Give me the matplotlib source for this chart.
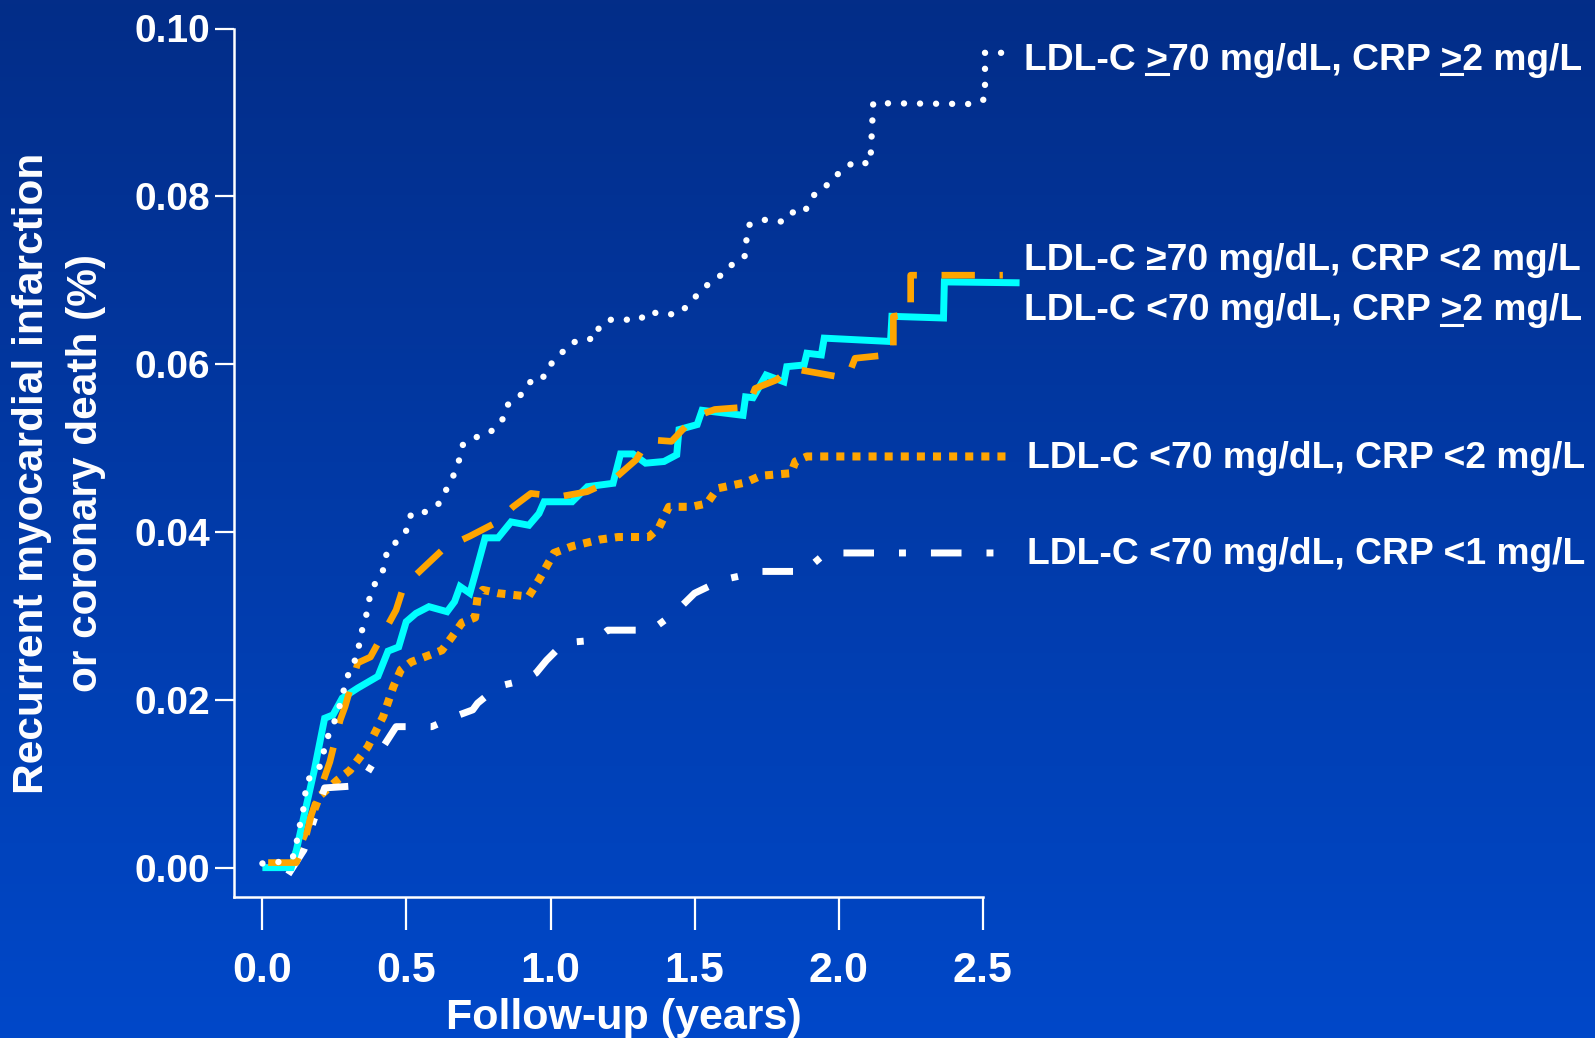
import numpy as np
import matplotlib
matplotlib.use("Agg")
import matplotlib.pyplot as plt
from matplotlib import font_manager
from matplotlib.lines import Line2D
from matplotlib.colors import LinearSegmentedColormap

# ---------------- data ----------------
# LDL-C >=70 mg/dL, CRP >=2 mg/L
hh_t = [0.000, 0.065, 0.106, 0.118, 0.129, 0.141, 0.148, 0.155, 0.195, 0.210, 0.223,
        0.245, 0.276, 0.288, 0.307, 0.335, 0.335, 0.353, 0.366, 0.375, 0.398, 0.425,
        0.432, 0.471, 0.505, 0.516, 0.568, 0.613, 0.639, 0.664, 0.683, 0.696, 0.743,
        0.794, 0.832, 0.849, 0.889, 0.921, 0.942, 0.979, 1.004, 1.033, 1.066, 1.110,
        1.156, 1.170, 1.210, 1.265, 1.310, 1.340, 1.390, 1.446, 1.485, 1.520, 1.560,
        1.610, 1.640, 1.675, 1.680, 1.690, 1.745, 1.800, 1.830, 1.880, 1.900, 1.920,
        1.956, 1.980, 2.020, 2.050, 2.110, 2.120, 2.470, 2.508, 2.508, 2.570]
hh_r = [0.0005, 0.0007, 0.0013, 0.0029, 0.0049, 0.0067, 0.0086, 0.0104, 0.0116, 0.0134, 0.0153,
        0.0169, 0.0201, 0.0221, 0.0238, 0.0256, 0.0272, 0.0290, 0.0309, 0.0328, 0.0343, 0.0358,
        0.0378, 0.0390, 0.0404, 0.0422, 0.0424, 0.0434, 0.0451, 0.0468, 0.0486, 0.0504, 0.0513,
        0.0520, 0.0533, 0.0551, 0.0560, 0.0574, 0.0585, 0.0585, 0.0601, 0.0611, 0.0624, 0.0630,
        0.0630, 0.0646, 0.0653, 0.0653, 0.0653, 0.0663, 0.0659, 0.0660, 0.0673, 0.0687, 0.0699,
        0.0710, 0.0723, 0.0729, 0.0748, 0.0766, 0.0772, 0.0770, 0.0781, 0.0780, 0.0794, 0.0804,
        0.0812, 0.0823, 0.0831, 0.0841, 0.0839, 0.0911, 0.0910, 0.0916, 0.0971, 0.0971]

# LDL-C <70 mg/dL, CRP >=2 mg/L (solid)
lh_t = [0.012, 0.100, 0.118, 0.144, 0.180, 0.216, 0.245, 0.277, 0.331, 0.401, 0.436,
        0.473, 0.499, 0.533, 0.578, 0.641, 0.667, 0.686, 0.720, 0.738, 0.773, 0.818,
        0.863, 0.925, 0.960, 0.978, 1.075, 1.128, 1.217, 1.243, 1.286, 1.330, 1.394,
        1.438, 1.446, 1.509, 1.526, 1.668, 1.677, 1.703, 1.748, 1.810, 1.820, 1.880,
        1.890, 1.940, 1.950, 2.180, 2.185, 2.364, 2.367, 2.616]
lh_r = [0.0000, 0.0000, 0.0021, 0.0061, 0.0116, 0.0178, 0.0182, 0.0202, 0.0214, 0.0228, 0.0258,
        0.0263, 0.0293, 0.0303, 0.0311, 0.0305, 0.0317, 0.0335, 0.0327, 0.0349, 0.0393, 0.0393,
        0.0412, 0.0408, 0.0422, 0.0436, 0.0436, 0.0454, 0.0458, 0.0493, 0.0493, 0.0482, 0.0484,
        0.0492, 0.0522, 0.0528, 0.0545, 0.0539, 0.0561, 0.0560, 0.0587, 0.0579, 0.0597, 0.0599,
        0.0613, 0.0611, 0.0631, 0.0627, 0.0657, 0.0655, 0.0698, 0.0697]

# LDL-C >=70 mg/dL, CRP <2 mg/L (dashed)
hl_t = [0.020, 0.118, 0.144, 0.170, 0.234, 0.270, 0.287, 0.331, 0.375, 0.464, 0.490,
        0.570, 0.632, 0.720, 0.810, 0.870, 0.932, 1.030, 1.127, 1.217, 1.297, 1.340,
        1.420, 1.500, 1.570, 1.685, 1.710, 1.783, 1.835, 1.934, 2.030, 2.057, 2.170,
        2.190, 2.190, 2.250, 2.250, 2.570]
hl_r = [0.0006, 0.0006, 0.0027, 0.0063, 0.0126, 0.0176, 0.0192, 0.0244, 0.0251, 0.0307, 0.0335,
        0.0361, 0.0381, 0.0395, 0.0411, 0.0430, 0.0446, 0.0442, 0.0448, 0.0462, 0.0486, 0.0510,
        0.0508, 0.0537, 0.0546, 0.0549, 0.0571, 0.0581, 0.0595, 0.0589, 0.0583, 0.0607, 0.0611,
        0.0611, 0.0657, 0.0660, 0.0706, 0.0706]

# LDL-C <70 mg/dL, CRP <2 mg/L (square dots)
ll_t = [0.030, 0.100, 0.162, 0.198, 0.259, 0.304, 0.366, 0.419, 0.455, 0.481, 0.516,
        0.578, 0.623, 0.658, 0.693, 0.738, 0.747, 0.765, 0.818, 0.924, 0.960, 1.012,
        1.075, 1.172, 1.235, 1.341, 1.376, 1.411, 1.490, 1.543, 1.580, 1.677, 1.730,
        1.835, 1.850, 1.890, 2.607]
ll_r = [0.0003, 0.0003, 0.0053, 0.0085, 0.0104, 0.0116, 0.0144, 0.0180, 0.0216, 0.0236, 0.0245,
        0.0253, 0.0259, 0.0275, 0.0292, 0.0298, 0.0323, 0.0331, 0.0327, 0.0323, 0.0343, 0.0375,
        0.0383, 0.0391, 0.0394, 0.0394, 0.0405, 0.0430, 0.0430, 0.0434, 0.0452, 0.0459, 0.0467,
        0.0470, 0.0484, 0.0490, 0.0490]

# LDL-C <70 mg/dL, CRP <1 mg/L (dash-dot)
vl_t = [0.090, 0.144, 0.216, 0.304, 0.366, 0.419, 0.464, 0.588, 0.667, 0.730, 0.747,
        0.818, 0.915, 0.950, 0.986, 1.047, 1.155, 1.199, 1.349, 1.429, 1.500, 1.597,
        1.730, 1.880, 1.942, 1.960, 2.607]
vl_r = [-0.0008, 0.0021, 0.0095, 0.0097, 0.0114, 0.0144, 0.0168, 0.0168, 0.0180, 0.0188, 0.0196,
        0.0216, 0.0224, 0.0232, 0.0247, 0.0268, 0.0271, 0.0283, 0.0283, 0.0303, 0.0327, 0.0343,
        0.0353, 0.0353, 0.0371, 0.0375, 0.0375]

x_ticks = [0.0, 0.5, 1.0, 1.5, 2.0, 2.5]
x_tick_labels = ["0.0", "0.5", "1.0", "1.5", "2.0", "2.5"]
y_ticks = [0.00, 0.02, 0.04, 0.06, 0.08, 0.10]
y_tick_labels = ["0.00", "0.02", "0.04", "0.06", "0.08", "0.10"]

# label text split around underlined ">" signs
labels = [
    ["LDL-C ", ">", "70 mg/dL, CRP ", ">", "2 mg/L"],
    ["LDL-C \u226570 mg/dL, CRP <2 mg/L"],
    ["LDL-C <70 mg/dL, CRP ", ">", "2 mg/L"],
    ["LDL-C <70 mg/dL, CRP <2 mg/L"],
    ["LDL-C <70 mg/dL, CRP <1 mg/L"],
]

# ---------------- fonts ----------------
def available(name):
    try:
        font_manager.findfont(font_manager.FontProperties(family=name),
                              fallback_to_default=False)
        return True
    except Exception:
        return False

BOLD = "Liberation Sans"
NARROW = "Liberation Sans Narrow" if available("Liberation Sans Narrow") else "Liberation Sans"

# ---------------- figure ----------------
W, H = 1595, 1038
fig = plt.figure(figsize=(W / 100, H / 100), dpi=100)

# vertical gradient background
bg = fig.add_axes([0, 0, 1, 1], zorder=-10)
cmap = LinearSegmentedColormap.from_list("bg", ["#032d88", "#0048c9"])
bg.imshow(np.linspace(0, 1, 256).reshape(-1, 1), aspect="auto", cmap=cmap,
          extent=[0, 1, 0, 1], origin="upper")
bg.set_axis_off()

ax = fig.add_axes([233.6 / W, 141 / H, (1025.9 - 233.6) / W, (1009.5 - 141) / H])
ax.set_facecolor("none")
ax.set_xlim(-0.1, 2.65)
ax.set_ylim(-0.0035, 0.10)

for s in ("top", "right"):
    ax.spines[s].set_visible(False)
for s in ("left", "bottom"):
    ax.spines[s].set_color("white")
    ax.spines[s].set_linewidth(1.8)
ax.spines["bottom"].set_bounds(-0.1, 2.5)

ax.set_xticks(x_ticks)
ax.set_xticklabels(x_tick_labels, fontsize=31, fontweight="bold", family=NARROW, color="white")
ax.set_yticks(y_ticks)
ax.set_yticklabels(y_tick_labels, fontsize=28, fontweight="bold", family=BOLD, color="white")
ax.tick_params(axis="x", direction="out", length=24, width=1.6, color="white", pad=15)
ax.tick_params(axis="y", direction="out", length=14, width=1.6, color="white", pad=3)

common = dict(clip_on=False, solid_joinstyle="miter")
ax.plot(ll_t, ll_r, color="#ffa500", lw=5.8, linestyle=(0, (1.0, 1.0)),
        dash_capstyle="butt", zorder=3, **common)
ax.plot(vl_t, vl_r, color="white", lw=5.0, linestyle=(0, (4.4, 3.6, 1.0, 3.6)),
        dash_capstyle="butt", zorder=4, **common)
ax.plot(lh_t, lh_r, color="#00ffff", lw=5.0, linestyle="-", zorder=5, **common)
ax.plot(hl_t, hl_r, color="#ffa500", lw=4.8, linestyle=(0, (5.0, 3.7)),
        dash_capstyle="butt", zorder=6, **common)
ax.plot(hh_t, hh_r, color="white", lw=4.6, linestyle=(0, (0.01, 2.5)),
        dash_capstyle="round", zorder=7, **common)

# axis titles
fig.text(32.5 / W, 1 - 473 / H, "Recurrent myocardial infarction", rotation=90,
         ha="center", va="center", fontsize=30.5, fontweight="bold", family=NARROW, color="white")
fig.text(86.5 / W, 1 - 473 / H, "or coronary death (%)", rotation=90,
         ha="center", va="center", fontsize=30.5, fontweight="bold", family=NARROW, color="white")
fig.text(623.5 / W, 1 - 1018 / H, "Follow-up (years)", ha="center", va="center",
         fontsize=31, fontweight="bold", family=NARROW, color="white")

# curve labels, with underlined ">" pieces
label_pos = [(1024, 60), (1024, 261), (1024, 311), (1027, 459), (1027, 555)]
fig.canvas.draw()
renderer = fig.canvas.get_renderer()
lab_kw = dict(fontsize=26.8, fontweight="bold", family=BOLD, color="white")

for parts, (px, py) in zip(labels, label_pos):
    full = "".join(parts)
    t = fig.text(px / W, 1 - py / H, full, ha="left", va="center", **lab_kw)
    bb = t.get_window_extent(renderer)
    prefix = ""
    for p in parts:
        prefix += p
        if p == ">":
            probe = fig.text(0, 0, prefix, **lab_kw)
            wpre = probe.get_window_extent(renderer).width
            gt = fig.text(0, 0, ">", **lab_kw)
            wgt = gt.get_window_extent(renderer).width
            probe.remove()
            gt.remove()
            x1 = bb.x0 + wpre
            x0 = x1 - wgt
            yb = bb.y0 + 4
            fig.add_artist(Line2D([x0 / W, x1 / W], [yb / H, yb / H],
                                  transform=fig.transFigure, color="white", lw=2.2))

fig.savefig("out.png", dpi=100)
